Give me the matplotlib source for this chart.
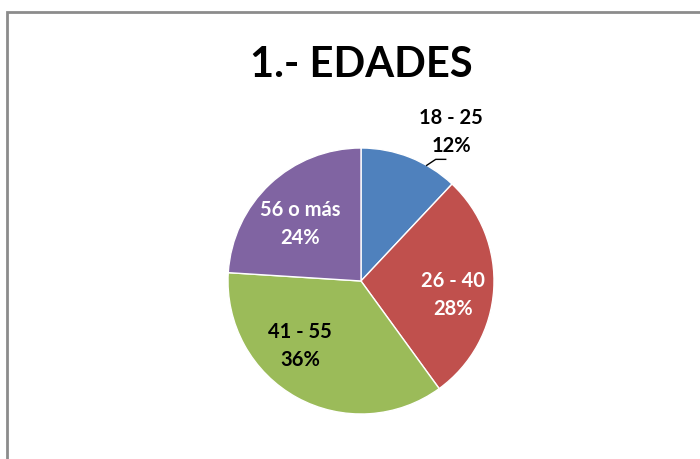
import numpy as np
import matplotlib.pyplot as plt
from matplotlib.patches import Rectangle

# --- Data ---
categories = ['18 - 25', '26 - 40', '41 - 55', '56 o más']
percentages = [12, 28, 36, 24]
colors = ['#4F81BD', '#C0504D', '#9BBB59', '#8064A2']
text_colors = ['black', 'white', 'black', 'white']
title = '1.- EDADES'

plt.rcParams['font.family'] = ['Lato', 'DejaVu Sans']

W, H = 700, 459
fig = plt.figure(figsize=(W / 100, H / 100), dpi=100)
ax = fig.add_axes([0, 0, 1, 1])

# chart border (runs off right and bottom edges)
fig.patches.append(Rectangle((7 / W, -0.05), 1.1, 1 - 12 / H + 0.05,
                             transform=fig.transFigure, fill=False,
                             edgecolor='#8c8c8c', linewidth=2))

cx, cy, r = 361, H - 281, 133
wedges, _ = ax.pie(percentages, colors=colors, startangle=90, counterclock=False,
                   center=(cx, cy), radius=r, frame=True,
                   wedgeprops=dict(edgecolor='white', linewidth=1))
ax.set_xlim(0, W)
ax.set_ylim(0, H)
ax.set_aspect('equal')
ax.axis('off')

ax.text(cx, H - 65, title, ha='center', va='center', fontsize=30,
        fontweight='bold', color='black')

# label centres in pixel layout (Excel "best fit" placement)
label_pos = [(451, 132), (453, 295), (300, 346), (300, 224)]
for i, w in enumerate(wedges):
    txt = f'{categories[i]}\n{percentages[i]}%'
    lx, ly = label_pos[i]
    ax.text(lx, H - ly, txt, ha='center', va='center', fontsize=14.5,
            fontweight='bold', color=text_colors[i], linespacing=1.55)
    if i == 0:
        # leader line from the slice edge to the outside label
        mid = np.deg2rad((w.theta1 + w.theta2) / 2 - 8)
        ex, ey = cx + r * np.cos(mid), cy + r * np.sin(mid)
        ax.plot([ex, ex + 9, ex + 19], [ey, ey + 6, ey + 6],
                color='black', linewidth=1)

fig.savefig('out.png', dpi=100)
